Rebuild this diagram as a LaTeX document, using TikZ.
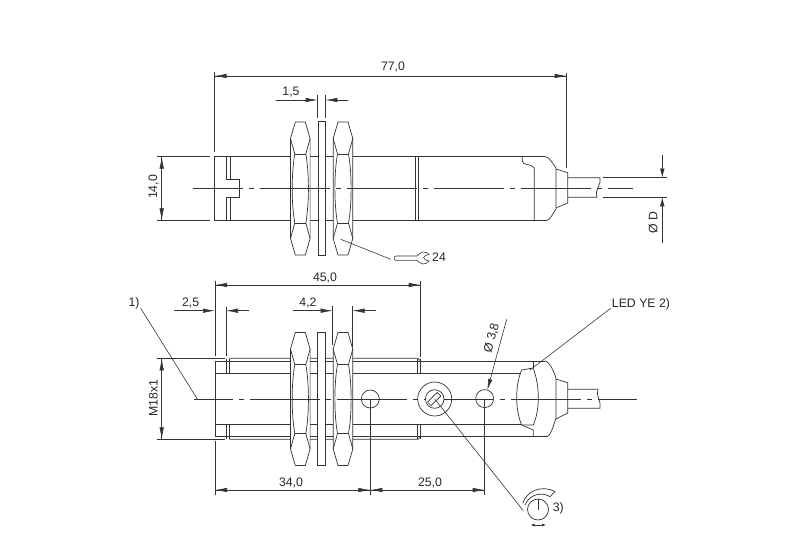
\documentclass[tikz,border=0pt]{standalone}
\usepackage{fontspec}
\setmainfont{Liberation Sans}
\usetikzlibrary{arrows.meta}

\begin{document}
\begin{tikzpicture}[x=1pt,y=-1pt,
	part/.style = {draw=black!80, line width=0.7pt},
	thinline/.style = {draw=black!80, line width=0.6pt},
	dimline/.style = {thinline, -{Latex[length=12pt,width=4.5pt]}},
	centreline/.style = {thinline, dash pattern=on 70pt off 6pt on 5pt off 6pt},
	label/.style = {inner sep=0pt, text=black!85, font=\fontsize{12.3}{14}\selectfont}]
	\useasboundingbox (0,0) rectangle (800,548);
	% top view: housing
	\draw[part] (545,156.7) -- (214.7,156.7) -- (214.7,220.3) -- (547,220.3);
	\draw[part] (545,156.7) .. controls (549,157) and (551,161) .. (556,168) -- (556,209) .. controls (552,215) and (550,220) .. (547,220.3);
	\draw[part] (226,156.7) -- (226,179) -- (239,179) -- (239,197.7) -- (226,197.7) -- (226,220.3);
	\draw[part] (230,156.7) -- (230,179);
	\draw[part] (230,197.7) -- (230,220.3);
	\draw[part] (415,156.7) -- (415,220.3);
	\draw[part] (418.3,156.7) -- (418.3,220.3);
	\draw[part] (522.3,156.7) -- (522.3,161) .. controls (522.3,166) and (531,163) .. (534.3,168) -- (534.3,220.3);
	\draw[part] (556,169) -- (567.7,172.7) -- (567.7,203) -- (556,208);
	% top view: cable
	\draw[part] (567.7,177.7) -- (600,177.7) .. controls (602,184) and (594,190) .. (597,197.3) -- (567.7,197.3);
	\draw[thinline] (603,177.7) -- (667,177.7);
	\draw[thinline] (603,197.3) -- (667,197.3);
	% bottom view: housing
	\draw[part] (545,361) -- (215,361) -- (215,436.7) -- (547,436.7);
	\draw[part] (545,361) .. controls (550,362) and (554,372) .. (556,378) -- (556,418) .. controls (553,428) and (550,436) .. (547,436.7);
	\draw[part] (229.3,358.3) -- (418,358.3) -- (420.5,361);
	\draw[part] (229.3,439.3) -- (418,439.3) -- (420.5,436.7);
	\draw[part] (215,373.3) -- (526,373.3);
	\draw[part] (215,424.3) -- (526,424.3);
	\foreach \tx in {226,229.3,417.7,420.5} {
		\draw[part] (\tx,358.6) -- (\tx,373.3);
		\draw[part] (\tx,424.3) -- (\tx,439);
	}
	\draw[part] (556,379) -- (567.7,382.7) -- (567.7,413) -- (556,419);
	% bottom view: led
	\draw[part,fill=white] (521.7,370) -- (533,368) .. controls (540,385) and (540,410) .. (533.3,425) -- (521.7,425) .. controls (515,410) and (515,385) .. (521.7,370) -- cycle;
	\draw[part] (533,361) -- (533,368);
	\draw[part] (521.7,425) -- (533.3,430) -- (533.3,436.7);
	% bottom view: cable
	\draw[part] (567.7,389.3) -- (598,389.3) .. controls (595,395) and (602,402) .. (600,408.3) -- (567.7,408.3);
	% nuts and washers
	\foreach \nutx/\nuty in {300.3/188.5,343/188.5,300.3/399,343/399} {
		\begin{scope}[shift={(\nutx,\nuty)}]
			\draw[part,fill=white] (-5,-66.5) -- (5,-66.5) -- (9.8,-50) -- (9.8,50) -- (5,66.5) -- (-5,66.5) -- (-9.8,50) -- (-9.8,-50) -- cycle;
			\draw[part] (-5.5,-34.5) -- (5.5,-34.5);
			\draw[part] (-5.5,34.5) -- (5.5,34.5);
			\draw[part] (-9.8,-50) -- (-5.5,-34.5) .. controls (-9,-15) and (-9,15) .. (-5.5,34.5) -- (-9.8,50);
			\draw[part] (9.8,-50) -- (5.5,-34.5) .. controls (9,-15) and (9,15) .. (5.5,34.5) -- (9.8,50);
		\end{scope}
	}
	\draw[part,fill=white] (318,121.7) rectangle (325.5,255);
	\draw[part,fill=white] (317.7,332.5) rectangle (325,465.5);
	% centre lines
	\coordinate (axisTopL) at (193,188.4);
	\coordinate (axisTopR) at (633,188.4);
	\coordinate (axisLowL) at (194,399);
	\coordinate (axisLowR) at (636.7,399);
	\draw[centreline, dash phase=20pt] (axisTopL) -- (axisTopR);
	\draw[centreline, dash phase=31pt] (axisLowL) -- (axisLowR);
	% holes and trimmer
	\draw[part] (370.3,399) circle[radius=9pt];
	\draw[part] (484.7,398.6) circle[radius=9pt];
	\draw[part] (434.7,399) circle[radius=17pt];
	\draw[part,fill=white] (434.7,399) circle[radius=9.3pt];
	\draw[part] (427.5,402) -- (437,392.5);
	\draw[part] (431,405.5) -- (441,396);
	\draw[part] (427.5,402) -- (431,405.5);
	\draw[part] (437,392.5) -- (441,396);
	% dimensions, top view
	\coordinate (totalL) at (214.7,76);
	\coordinate (totalR) at (566.7,76);
	\draw[thinline] (214.7,72) -- (214.7,152);
	\draw[thinline] (566.7,73) -- (566.7,168);
	\draw[dimline] (totalR) -- (totalL);
	\draw[dimline] (totalL) -- (totalR);
	\node[label] (total) at (393,67) {77,0};
	\coordinate (washerL) at (317.7,100);
	\coordinate (washerR) at (325.3,100);
	\coordinate (washerFarL) at (275.7,100);
	\coordinate (washerFarR) at (348,100);
	\draw[thinline] (317.7,95) -- (317.7,117.7);
	\draw[thinline] (325.3,95) -- (325.3,117.7);
	\draw[dimline] (washerFarL) -- (washerL);
	\draw[dimline] (washerFarR) -- (washerR);
	\node[label] (washer) at (291,92) {1,5};
	\coordinate (widthT) at (161.7,156.7);
	\coordinate (widthB) at (161.7,220.3);
	\draw[thinline] (157,156.7) -- (210,156.7);
	\draw[thinline] (157,220.3) -- (210,220.3);
	\draw[dimline] (widthB) -- (widthT);
	\draw[dimline] (widthT) -- (widthB);
	\node[label,rotate=90] (width) at (153.5,187) {14,0};
	\coordinate (cableT) at (662.3,155);
	\coordinate (cableTtip) at (662.3,177.7);
	\coordinate (cableB) at (662.3,243);
	\coordinate (cableBtip) at (662.3,197.3);
	\draw[thinline, -{Latex[length=9pt,width=4.5pt]}] (cableT) -- (cableTtip);
	\draw[thinline, -{Latex[length=9pt,width=4.5pt]}] (cableB) -- (cableBtip);
	\node[label,rotate=90] (cable) at (653,223) {Ø D};
	% wrench
	\coordinate (nutPoint) at (340.7,239.3);
	\coordinate (wrenchPoint) at (390.7,259.3);
	\draw[thinline] (nutPoint) -- (wrenchPoint);
	\draw[thinline] (396,256) -- (417,256) .. controls (419,255) and (420,252) .. (423,252) .. controls (426,252) and (428,253) .. (429,254.5) -- (425.5,255.5) .. controls (423,256) and (423,259.5) .. (425.5,260) -- (429,261) .. controls (428,263) and (425,264) .. (423,264) .. controls (420,264) and (419,261.5) .. (417,260.3) -- (396,260.3) .. controls (393.5,260.3) and (393.5,256) .. (396,256) -- cycle;
	\node[label] (spanner) at (439,257.5) {24};
	% dimensions, bottom view
	\coordinate (threadL) at (215,285);
	\coordinate (threadR) at (420.7,285);
	\draw[thinline] (215,280.7) -- (215,356);
	\draw[thinline] (420.7,281) -- (420.7,356.7);
	\draw[dimline] (threadR) -- (threadL);
	\draw[dimline] (threadL) -- (threadR);
	\node[label] (thread) at (325,278) {45,0};
	\coordinate (chamferL) at (215,310.7);
	\coordinate (chamferR) at (226,310.7);
	\coordinate (chamferFarL) at (174.3,310.7);
	\coordinate (chamferFarR) at (249,310.7);
	\draw[thinline] (226,306.7) -- (226,356);
	\draw[dimline] (chamferFarL) -- (chamferL);
	\draw[dimline] (chamferFarR) -- (chamferR);
	\node[label] (chamfer) at (190.7,303) {2,5};
	\coordinate (nutL) at (332.7,310.7);
	\coordinate (nutR) at (352.5,310.7);
	\coordinate (nutFarL) at (293.3,310.7);
	\coordinate (nutFarR) at (375.7,310.7);
	\draw[thinline] (332.7,306) -- (332.7,345);
	\draw[thinline] (352.5,306) -- (352.5,347);
	\draw[dimline] (nutFarL) -- (nutL);
	\draw[dimline] (nutFarR) -- (nutR);
	\node[label] (nut) at (308,303) {4,2};
	\coordinate (metricT) at (161.7,358.3);
	\coordinate (metricB) at (161.7,439.3);
	\draw[thinline] (156.7,358.3) -- (225,358.3);
	\draw[thinline] (156.7,439.3) -- (225,439.3);
	\draw[dimline] (metricB) -- (metricT);
	\draw[dimline] (metricT) -- (metricB);
	\node[label,rotate=90] (metric) at (153.3,398) {M18x1};
	\coordinate (holeL) at (215,490);
	\coordinate (holeM) at (370.3,490);
	\coordinate (holeR) at (484.7,490);
	\draw[thinline] (215,441) -- (215,495);
	\draw[thinline] (370.3,399) -- (370.3,495);
	\draw[thinline] (484.7,399) -- (484.7,495);
	\draw[dimline] (holeM) -- (holeL);
	\draw[dimline] (holeL) -- (holeM);
	\draw[dimline] (holeR) -- (holeM);
	\draw[dimline] (holeM) -- (holeR);
	\node[label] (holeA) at (291,482.7) {34,0};
	\node[label] (holeB) at (430,482.7) {25,0};
	% leaders
	\node[label] (note1) at (134,303) {1)};
	\coordinate (note1End) at (197.3,399);
	\draw[thinline] (140.7,308.3) -- (note1End);
	\node[label] (led) at (641,304) {LED YE 2)};
	\coordinate (ledEnd) at (530,370);
	\draw[thinline] (610.7,308.3) -- (ledEnd);
	\coordinate (boreFar) at (506.7,319.3);
	\coordinate (boreTip) at (487.3,390);
	\draw[thinline, -{Latex[length=11pt,width=4.5pt]}] (boreFar) -- (boreTip);
	\node[label,rotate=75] (bore) at (491.7,338) {Ø 3,8};
	% trimmer symbol
	\coordinate (trimmerCentre) at (434.7,399);
	\coordinate (knobEdge) at (523.3,510.7);
	\draw[thinline] (trimmerCentre) -- (knobEdge);
	\draw[part] (538,509.5) circle[radius=10.5pt];
	\draw[part] (538,509.5) -- (538,499);
	\draw[part] (522.7,503.3) .. controls (526,492) and (541,484) .. (555,491.7) -- (550,496.7) .. controls (541,491) and (529,495) .. (525,505);
	\coordinate (turnL) at (530.5,525);
	\coordinate (turnR) at (546,525);
	\draw[thinline, {Latex[length=4pt,width=3pt]}-{Latex[length=4pt,width=3pt]}] (turnL) -- (turnR);
	\node[label] (note3) at (558.3,508.5) {3)};
\end{tikzpicture}
\end{document}
